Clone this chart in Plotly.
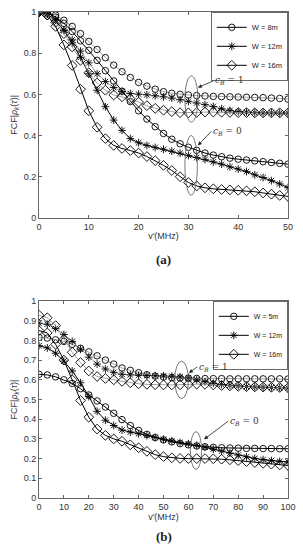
import plotly.graph_objects as go

# ---------------- data ----------------
x_a = [0, 1.667, 3.333, 5, 6.667, 8.333, 10, 11.667, 13.333, 15, 16.667, 18.333, 20, 21.667,
       23.333, 25, 26.667, 28.333, 30, 31.667, 33.333, 35, 36.667, 38.333, 40, 41.667, 43.333,
       45, 46.667, 48.333, 50]
x_b = [0, 3.333, 6.667, 10, 13.333, 16.667, 20, 23.333, 26.667, 30, 33.333, 36.667, 40, 43.333,
       46.667, 50, 53.333, 56.667, 60, 63.333, 66.667, 70, 73.333, 76.667, 80, 83.333, 86.667,
       90, 93.333, 96.667, 100]

legend_a = ["W = 8m", "W = 12m", "W = 16m"]
legend_b = ["W = 5m", "W = 12m", "W = 16m"]

# panel (a), c_B = 1
a_w8_c1 = [1.0, 0.998, 0.985, 0.96, 0.93, 0.895, 0.857, 0.818, 0.778, 0.742, 0.71, 0.682, 0.658,
           0.64, 0.625, 0.613, 0.605, 0.6, 0.597, 0.594, 0.592, 0.59, 0.589, 0.588, 0.587, 0.586,
           0.585, 0.584, 0.582, 0.58, 0.577]
a_w12_c1 = [1.0, 0.99, 0.962, 0.913, 0.865, 0.81, 0.753, 0.70, 0.662, 0.633, 0.614, 0.604, 0.601,
            0.598, 0.593, 0.588, 0.582, 0.574, 0.566, 0.558, 0.55, 0.541, 0.53, 0.521, 0.516,
            0.513, 0.511, 0.51, 0.51, 0.509, 0.509]
a_w16_c1 = [1.0, 0.985, 0.95, 0.895, 0.83, 0.765, 0.705, 0.655, 0.62, 0.597, 0.588, 0.578, 0.562,
            0.545, 0.532, 0.523, 0.516, 0.511, 0.51, 0.512, 0.514, 0.514, 0.513, 0.512, 0.511,
            0.511, 0.51, 0.51, 0.51, 0.51, 0.51]
# panel (a), c_B = 0
a_w8_c0 = [1.0, 0.995, 0.975, 0.945, 0.905, 0.86, 0.814, 0.765, 0.715, 0.665, 0.615, 0.565, 0.52,
           0.48, 0.443, 0.41, 0.382, 0.36, 0.343, 0.328, 0.315, 0.305, 0.297, 0.29, 0.285, 0.281,
           0.277, 0.273, 0.269, 0.265, 0.261]
a_w12_c0 = [1.0, 0.99, 0.96, 0.91, 0.85, 0.78, 0.70, 0.62, 0.54, 0.475, 0.425, 0.385, 0.365,
            0.352, 0.342, 0.333, 0.324, 0.314, 0.303, 0.293, 0.284, 0.272, 0.261, 0.248, 0.237,
            0.225, 0.209, 0.196, 0.181, 0.165, 0.147]
a_w16_c0 = [1.0, 0.985, 0.93, 0.84, 0.74, 0.625, 0.52, 0.44, 0.385, 0.352, 0.337, 0.327, 0.315,
            0.298, 0.278, 0.255, 0.23, 0.2, 0.172, 0.155, 0.146, 0.141, 0.138, 0.136, 0.134,
            0.131, 0.127, 0.121, 0.115, 0.109, 0.104]

# panel (b), c_B = 1
b_w5_c1 = [0.815, 0.812, 0.803, 0.795, 0.78, 0.76, 0.742, 0.722, 0.70, 0.68, 0.66, 0.648, 0.636,
           0.626, 0.619, 0.614, 0.611, 0.609, 0.608, 0.607, 0.606, 0.606, 0.606, 0.605, 0.605,
           0.605, 0.605, 0.605, 0.605, 0.605, 0.604]
b_w12_c1 = [0.887, 0.882, 0.86, 0.83, 0.795, 0.755, 0.715, 0.68, 0.655, 0.638, 0.628, 0.625,
            0.623, 0.622, 0.621, 0.62, 0.618, 0.615, 0.61, 0.6, 0.59, 0.582, 0.576, 0.572, 0.569,
            0.566, 0.564, 0.562, 0.561, 0.56, 0.559]
b_w16_c1 = [0.928, 0.915, 0.875, 0.805, 0.74, 0.688, 0.645, 0.617, 0.607, 0.6, 0.592, 0.585,
            0.58, 0.577, 0.575, 0.574, 0.574, 0.575, 0.577, 0.578, 0.577, 0.574, 0.571, 0.569,
            0.567, 0.565, 0.564, 0.563, 0.562, 0.561, 0.56]
# panel (b), c_B = 0
b_w5_c0 = [0.628, 0.625, 0.615, 0.6, 0.582, 0.555, 0.523, 0.493, 0.462, 0.43, 0.398, 0.368,
           0.343, 0.323, 0.307, 0.295, 0.285, 0.276, 0.27, 0.264, 0.26, 0.257, 0.255, 0.254,
           0.253, 0.252, 0.252, 0.251, 0.251, 0.25, 0.25]
b_w12_c0 = [0.773, 0.762, 0.735, 0.695, 0.645, 0.585, 0.515, 0.44, 0.395, 0.368, 0.345, 0.335,
            0.326, 0.317, 0.307, 0.298, 0.29, 0.282, 0.275, 0.267, 0.258, 0.248, 0.238, 0.228,
            0.218, 0.209, 0.201, 0.195, 0.19, 0.186, 0.183]
b_w16_c0 = [0.85, 0.838, 0.78, 0.70, 0.60, 0.495, 0.41, 0.35, 0.318, 0.3, 0.288, 0.27, 0.255,
            0.237, 0.22, 0.21, 0.204, 0.201, 0.2, 0.2, 0.2, 0.199, 0.197, 0.194, 0.19, 0.185,
            0.18, 0.176, 0.172, 0.168, 0.165]

# ---------------- figure ----------------
symbols = ["circle-open", "asterisk-open", "diamond-open"]
sizes = [6.5, 6.5, 7.5]
fig = go.Figure()

panels = [
    ("x", "y", "legend", x_a, legend_a, [a_w8_c1, a_w12_c1, a_w16_c1], [a_w8_c0, a_w12_c0, a_w16_c0]),
    ("x2", "y2", "legend2", x_b, legend_b, [b_w5_c1, b_w12_c1, b_w16_c1], [b_w5_c0, b_w12_c0, b_w16_c0]),
]
for xr, yr, lg, xs, names, c1s, c0s in panels:
    for i in range(3):
        fig.add_trace(go.Scatter(
            x=xs, y=c0s[i], xaxis=xr, yaxis=yr, name=names[i], legend=lg, showlegend=True,
            mode="lines+markers", line=dict(color="black", width=1),
            marker=dict(symbol=symbols[i], size=sizes[i], color="black", line=dict(width=0.9))))
    for i in range(3):
        fig.add_trace(go.Scatter(
            x=xs, y=c1s[i], xaxis=xr, yaxis=yr, name=names[i], legend=lg, showlegend=False,
            mode="lines+markers", line=dict(color="#8a8a8a", width=0.8),
            marker=dict(symbol=symbols[i], size=sizes[i], color="black", line=dict(width=0.9))))

tickfont = dict(family="Liberation Sans, Arial, sans-serif", size=9, color="#333")
axcommon = dict(showgrid=False, zeroline=False, showline=True, linecolor="#666", linewidth=0.8,
                mirror="ticks", ticks="inside", ticklen=3, tickcolor="#666", tickfont=tickfont)

titlefont = dict(family="Liberation Sans", size=9, color="#333")
ytitle = "FCF|<i>ρ</i><sub><i>k</i></sub>(<i>τ</i>)|"
xtitle = "v′(MHz)"
fig.update_layout(
    width=303, height=550, plot_bgcolor="white", paper_bgcolor="white",
    margin=dict(l=39, r=11, t=7, b=52),
    xaxis=dict(domain=[0, 1], range=[0, 50], tickvals=[0, 10, 20, 30, 40, 50], anchor="y",
               title=dict(text=xtitle, font=titlefont, standoff=2), **axcommon),
    yaxis=dict(domain=[0.5764, 1], range=[0, 1], tickvals=[0, 0.2, 0.4, 0.6, 0.8, 1], anchor="x",
               title=dict(text=ytitle, font=titlefont, standoff=4), **axcommon),
    xaxis2=dict(domain=[0, 1], range=[0, 100], tickvals=[0, 10, 20, 30, 40, 50, 60, 70, 80, 90, 100],
                anchor="y2", title=dict(text=xtitle, font=titlefont, standoff=2), **axcommon),
    yaxis2=dict(domain=[0, 0.4053], range=[0, 1],
                tickvals=[0, 0.1, 0.2, 0.3, 0.4, 0.5, 0.6, 0.7, 0.8, 0.9, 1], anchor="x2",
                title=dict(text=ytitle, font=titlefont, standoff=4), **axcommon),
    legend=dict(x=1, y=1, xanchor="right", yanchor="top", bgcolor="white", bordercolor="#444",
                borderwidth=0.8, font=dict(family="Liberation Sans", size=7.5, color="#222"),
                tracegroupgap=0, itemwidth=30),
    legend2=dict(x=1, y=0.4053, xanchor="right", yanchor="top", bgcolor="white", bordercolor="#444",
                 borderwidth=0.8, font=dict(family="Liberation Sans", size=7, color="#222"),
                 tracegroupgap=0, itemwidth=30),
    showlegend=True,
)

# ellipses marking the curve groups
ell = dict(type="circle", line=dict(color="#555", width=0.8), fillcolor="rgba(0,0,0,0)")
fig.add_shape(xref="x", yref="y", x0=29.3, x1=31.9, y0=0.465, y1=0.69, **ell)
fig.add_shape(xref="x", yref="y", x0=29.3, x1=31.8, y0=0.11, y1=0.40, **ell)
fig.add_shape(xref="x2", yref="y2", x0=54.5, x1=60.0, y0=0.505, y1=0.695, **ell)
fig.add_shape(xref="x2", yref="y2", x0=60.8, x1=65.3, y0=0.145, y1=0.337, **ell)

lab_font = dict(family="DejaVu Serif, Liberation Serif, serif", size=9, color="#333")
def cb_note(xr, yr, hx, hy, tx, ty, val):
    # label sits at the arrow tail, the arrow points to (hx, hy)
    fig.add_annotation(xref=xr, yref=yr, x=hx, y=hy, ax=tx, ay=ty, axref=xr, ayref=yr,
                       xanchor="left", yanchor="middle",
                       showarrow=True, arrowhead=2, arrowsize=1, arrowwidth=0.8, arrowcolor="#222",
                       text=f"<i>c</i><sub><i>B</i></sub> = {val}", font=lab_font)

cb_note("x", "y", 31.9, 0.633, 35.0, 0.665, 1)
cb_note("x", "y", 31.9, 0.352, 34.6, 0.42, 0)
cb_note("x2", "y2", 60.2, 0.635, 63.5, 0.665, 1)
cb_note("x2", "y2", 66.3, 0.298, 76.0, 0.39, 0)

panel_font = dict(family="Liberation Serif, DejaVu Serif, serif", size=13, color="#222")
fig.add_annotation(xref="paper", yref="paper", x=0.5, y=0.4908, text="<b>(a)</b>",
                   showarrow=False, font=panel_font, yanchor="middle")
fig.add_annotation(xref="paper", yref="paper", x=0.5, y=-0.0794, text="<b>(b)</b>",
                   showarrow=False, font=panel_font, yanchor="middle")

fig.write_html("out.html", config={"displayModeBar": False},
               post_script="document.body.style.margin='0';document.body.style.padding='0';"
                           "document.documentElement.style.overflow='hidden';")
